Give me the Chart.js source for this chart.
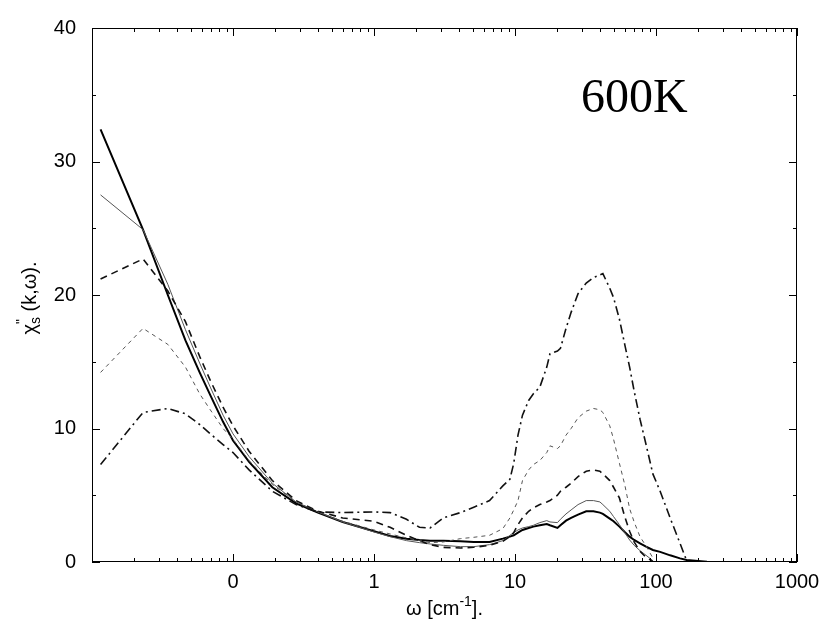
<!DOCTYPE html>
<html>
<head>
<meta charset="utf-8">
<script src="https://cdn.jsdelivr.net/npm/chart.js@4/dist/chart.umd.min.js"></script>
<style>
  body { margin: 0; background: #fff; }
  canvas { display: block; }
</style>
</head>
<body>
<canvas id="chiChart" width="828" height="631"></canvas>
<script>
// frequencies (cm^-1) where the curves were read
const omega = [0.0115, 0.023, 0.0345, 0.046, 0.058, 0.069, 0.085, 0.1, 0.13, 0.19, 0.28, 0.4, 0.6, 1.0,
    1.3, 1.7, 2.1, 2.5, 3.1, 4.1, 5.1, 6.6, 8.2, 9.2, 9.8, 10.5, 11.3, 12.5, 13.5, 15, 16.8, 17.7,
    20, 21, 23, 25, 28, 32, 36, 40, 42, 47, 50, 55, 60, 65, 70, 77, 85, 95, 107, 126, 148, 165, 230];

// curves, same order as omega (null = no data)
const thickSolid = [32.4, 24.9, 20.0, 16.6, 14.2, 12.5, 10.5, 9.1, 7.5, 5.6, 4.4, 3.7, 3.0, 2.3,
    1.95, 1.75, 1.65, 1.6, 1.6, 1.55, 1.5, 1.5, 1.75, 1.9, 2.0, 2.2, 2.4, 2.55, 2.65, 2.75, 2.85, 2.75,
    2.55, 2.75, 3.1, 3.3, 3.55, 3.8, 3.8, 3.7, 3.6, 3.25, 3.05, 2.65, 2.25, 1.9, 1.65, 1.4, 1.15, 0.9, 0.76, 0.5, 0.27, 0.15, 0.02];
const thinSolid = [27.5, 24.9, 20.8, 17.4, 14.9, 13.1, 11.0, 9.6, 7.9, 5.9, 4.5, 3.75, 3.0, 2.25,
    1.9, 1.6, 1.45, 1.35, 1.25, 1.15, 1.15, 1.3, 1.6, 2.0, 2.2, 2.4, 2.55, 2.65, 2.75, 2.95, 3.1, 3.0,
    2.95, 3.2, 3.6, 3.9, 4.3, 4.6, 4.6, 4.5, 4.3, 3.8, 3.4, 2.8, 2.2, 1.65, 1.25, 0.85, 0.5, 0.1, null, null, null, null, null];
const dashed = [21.2, 22.7, 20.3, 18.0, 15.4, 13.6, 11.6, 10.2, 8.3, 6.1, 4.6, 3.8, 3.3, 3.05,
    2.6, 2.0, 1.6, 1.3, 1.1, 1.05, 1.1, 1.25, 1.55, 1.9, 2.2, 2.8, 3.3, 3.8, 4.05, 4.3, 4.5, 4.6,
    5.0, 5.3, 5.6, 5.9, 6.4, 6.8, 6.9, 6.8, 6.6, 6.1, 5.6, 4.8, 3.4, 2.3, 1.5, 0.8, 0.35, 0.05, null, null, null, null, null];
const shortDashed = [14.2, 17.5, 16.3, 14.6, 12.6, 11.4, 10.0, 9.2, 7.6, 5.8, 4.5, 3.75, 3.05, 2.4,
    2.1, 1.8, 1.6, 1.45, 1.5, 1.75, 1.85, 2.0, 2.5, 3.3, 3.9, 4.6, 6.1, 6.9, 7.3, 7.6, 8.2, 8.7,
    8.5, 8.7, 9.5, 10.0, 10.8, 11.3, 11.5, 11.4, 11.2, 10.2, 9.2, 7.4, 5.8, 4.0, 3.0, 1.9, 1.2, 0.3, null, null, null, null, null];
const dashDot = [7.3, 11.2, 11.5, 11.1, 10.3, 9.6, 8.8, 8.2, 6.9, 5.3, 4.3, 3.75, 3.7, 3.75,
    3.7, 3.2, 2.6, 2.55, 3.3, 3.7, 4.1, 4.6, 5.7, 6.2, 7.4, 9.5, 11.0, 12.1, 12.6, 13.1, 14.6, 15.6,
    15.8, 16.0, 17.5, 18.7, 20.1, 20.9, 21.3, 21.5, 21.6, 20.5, 19.8, 18.2, 16.3, 14.6, 12.8, 10.7, 8.8, 6.6, 5.3, 3.3, 1.4, 0.1, null];

// axis ticks
const xTickValues = [0.01, 0.1, 1, 10, 100, 1000];
const xTickLabels = ['', '0', '1', '10', '100', '1000'];
const yTickValues = [0, 10, 20, 30, 40];
const yMinorValues = [5, 15, 25, 35];

const sans = '"Liberation Sans", Arial, sans-serif';

function toPoints(values) {
    return omega.map((w, i) => ({ x: w, y: values[i] }));
}

// box + inward ticks on all four sides, placed through the scales
const frameTicks = {
    id: 'frameTicks',
    afterDatasetsDraw(chart) {
        const { ctx, chartArea: a, scales: { x, y } } = chart;
        ctx.save();
        ctx.strokeStyle = '#000';
        ctx.lineWidth = 1;
        ctx.strokeRect(a.left + 0.5, a.top + 0.5, a.right - a.left - 1, a.bottom - a.top - 1);
        ctx.beginPath();
        const xTick = (v, len) => {
            const px = Math.round(x.getPixelForValue(v)) + 0.5;
            ctx.moveTo(px, a.bottom); ctx.lineTo(px, a.bottom - len);
            ctx.moveTo(px, a.top); ctx.lineTo(px, a.top + len);
        };
        const yTick = (v, len) => {
            const py = Math.round(y.getPixelForValue(v)) + 0.5;
            ctx.moveTo(a.left, py); ctx.lineTo(a.left + len, py);
            ctx.moveTo(a.right, py); ctx.lineTo(a.right - len, py);
        };
        xTickValues.forEach(v => xTick(v, 8));
        xTickValues.slice(0, -1).forEach(d => {
            for (let m = 2; m <= 9; m++) xTick(d * m, 4);
        });
        yTickValues.forEach(v => yTick(v, 8));
        yMinorValues.forEach(v => yTick(v, 4));
        ctx.stroke();

        // 600K label
        ctx.fillStyle = '#000';
        ctx.font = '48px "Liberation Serif", "Times New Roman", serif';
        ctx.textBaseline = 'alphabetic';
        ctx.textAlign = 'left';
        ctx.fillText('600K', 581, 112);

        // x axis title: ω [cm^-1].
        const big = '20px ' + sans;
        const small = '14px ' + sans;
        ctx.font = big;
        const p1 = 'ω [cm', p3 = '].';
        ctx.font = small;
        const w2 = ctx.measureText('-1').width;
        ctx.font = big;
        const total = ctx.measureText(p1).width + w2 + ctx.measureText(p3).width;
        let tx = (a.left + a.right) / 2 - total / 2;
        const ty = 615;
        ctx.fillText(p1, tx, ty); tx += ctx.measureText(p1).width;
        ctx.font = small; ctx.fillText('-1', tx, ty - 9); tx += w2;
        ctx.font = big; ctx.fillText(p3, tx, ty);

        // y axis title: χs''(k,ω).
        ctx.translate(36, 298);
        ctx.rotate(-Math.PI / 2);
        ctx.font = big;
        const wChi = ctx.measureText('χ').width;
        const wRest = ctx.measureText(' (k,ω).').width;
        ctx.font = small;
        const wS = ctx.measureText('s').width;
        let ry = -(wChi + wS + wRest) / 2;
        ctx.font = big; ctx.fillText('χ', ry, 0); ry += wChi;
        ctx.font = small; ctx.fillText('s', ry, 4); ctx.fillText('"', ry, -10); ry += wS;
        ctx.font = big; ctx.fillText(' (k,ω).', ry, 0);
        ctx.restore();
    }
};

const baseLine = { pointRadius: 0, fill: false, tension: 0, spanGaps: false };

new Chart(document.getElementById('chiChart').getContext('2d'), {
    type: 'line',
    data: {
        datasets: [
            { ...baseLine, label: 'dash-dot', data: toPoints(dashDot), borderColor: '#111', borderWidth: 1.6, borderDash: [9, 4, 2, 4] },
            { ...baseLine, label: 'short dashed', data: toPoints(shortDashed), borderColor: '#555', borderWidth: 1, borderDash: [4, 4] },
            { ...baseLine, label: 'dashed', data: toPoints(dashed), borderColor: '#111', borderWidth: 1.6, borderDash: [7, 5] },
            { ...baseLine, label: 'thin solid', data: toPoints(thinSolid), borderColor: '#555', borderWidth: 1 },
            { ...baseLine, label: 'thick solid', data: toPoints(thickSolid), borderColor: '#000', borderWidth: 2 }
        ]
    },
    options: {
        responsive: false,
        animation: false,
        layout: { padding: { top: 18, right: 31, left: 0, bottom: 0 } },
        plugins: { legend: { display: false }, tooltip: { enabled: false } },
        scales: {
            x: {
                type: 'logarithmic',
                min: 0.01,
                max: 1000,
                afterBuildTicks: scale => { scale.ticks = xTickValues.map(v => ({ value: v })); },
                afterFit: scale => { scale.height = 69; },
                grid: { display: false, drawTicks: false },
                border: { display: false },
                ticks: {
                    color: '#000',
                    padding: 8,
                    maxRotation: 0,
                    autoSkip: false,
                    font: { family: sans, size: 20 },
                    callback: (v) => xTickLabels[xTickValues.indexOf(v)] ?? ''
                }
            },
            y: {
                min: 0,
                max: 40,
                afterBuildTicks: scale => { scale.ticks = yTickValues.map(v => ({ value: v })); },
                afterFit: scale => { scale.width = 92; },
                grid: { display: false, drawTicks: false },
                border: { display: false },
                ticks: {
                    color: '#000',
                    padding: 16,
                    font: { family: sans, size: 20 }
                }
            }
        }
    },
    plugins: [frameTicks]
});
</script>
</body>
</html>
